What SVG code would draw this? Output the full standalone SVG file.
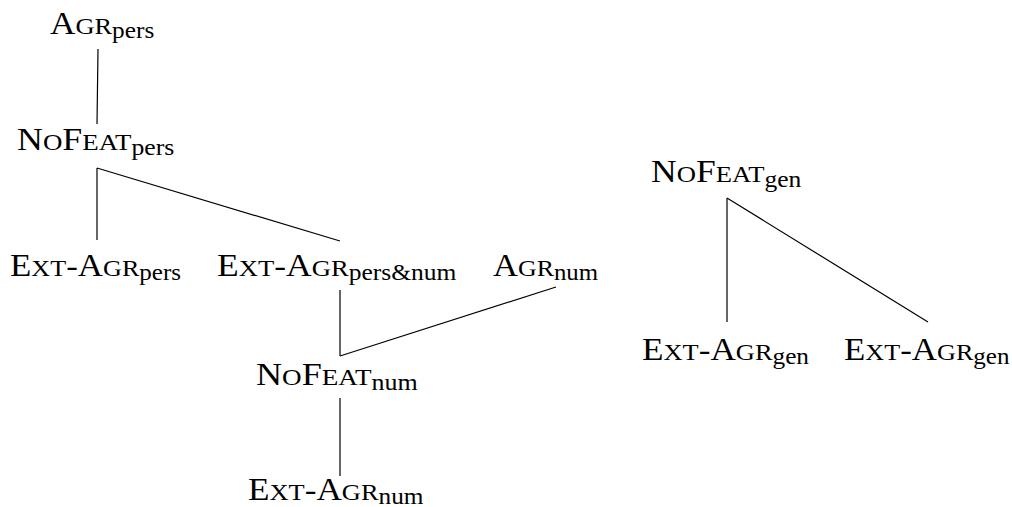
<svg xmlns="http://www.w3.org/2000/svg" width="1012" height="507" viewBox="0 0 1012 507" font-family="Liberation Serif, Times New Roman, serif">
  <style>
    text { font-family: "Liberation Serif", "Times New Roman", serif; fill: #000; }
    .big { font-size: 32px; }
    .sc { font-size: 24px; }
    .sub { font-size: 23px; }
    .edge { stroke: #000; stroke-width: 1.2; fill: none; }
  </style>
  <rect width="1012" height="507" fill="#fff"/>

  <g id="connectors">
    <line class="edge" x1="98" y1="49" x2="97" y2="124"/>
    <line class="edge" x1="97" y1="168" x2="97" y2="240"/>
    <line class="edge" x1="97" y1="168" x2="340" y2="241"/>
    <line class="edge" x1="340" y1="290" x2="340" y2="356"/>
    <line class="edge" x1="340" y1="356" x2="556" y2="287"/>
    <line class="edge" x1="340" y1="398" x2="340" y2="476"/>
    <line class="edge" x1="727" y1="198" x2="727" y2="322"/>
    <line class="edge" x1="727" y1="198" x2="928" y2="322"/>
  </g>

  <g id="agr-pers" transform="translate(50,34) scale(1.1,1)">
    <text><tspan class="big">A</tspan><tspan class="sc">GR</tspan><tspan class="sub" dy="4">pers</tspan></text>
  </g>

  <g id="nofeat-pers" transform="translate(17,150) scale(1.12,1)">
    <text><tspan class="big">N</tspan><tspan class="sc">O</tspan><tspan class="big">F</tspan><tspan class="sc">EAT</tspan><tspan class="sub" dy="5">pers</tspan></text>
  </g>

  <g id="ext-agr-pers" transform="translate(10,276) scale(1.09,1)">
    <text><tspan class="big">E</tspan><tspan class="sc">XT</tspan><tspan class="big">-A</tspan><tspan class="sc">GR</tspan><tspan class="sub" dy="4">pers</tspan></text>
  </g>

  <g id="ext-agr-pers-num" transform="translate(217,276) scale(1.11,1)">
    <text><tspan class="big">E</tspan><tspan class="sc">XT</tspan><tspan class="big">-A</tspan><tspan class="sc">GR</tspan><tspan class="sub" dy="4">pers&amp;num</tspan></text>
  </g>

  <g id="agr-num" transform="translate(493,276) scale(1.08,1)">
    <text><tspan class="big">A</tspan><tspan class="sc">GR</tspan><tspan class="sub" dy="4">num</tspan></text>
  </g>

  <g id="nofeat-num" transform="translate(256,385) scale(1.13,1)">
    <text><tspan class="big">N</tspan><tspan class="sc">O</tspan><tspan class="big">F</tspan><tspan class="sc">EAT</tspan><tspan class="sub" dy="5">num</tspan></text>
  </g>

  <g id="ext-agr-num" transform="translate(248,500) scale(1.1,1)">
    <text><tspan class="big">E</tspan><tspan class="sc">XT</tspan><tspan class="big">-A</tspan><tspan class="sc">GR</tspan><tspan class="sub" dy="4">num</tspan></text>
  </g>

  <g id="nofeat-gen" transform="translate(651,182) scale(1.11,1)">
    <text><tspan class="big">N</tspan><tspan class="sc">O</tspan><tspan class="big">F</tspan><tspan class="sc">EAT</tspan><tspan class="sub" dy="5">gen</tspan></text>
  </g>

  <g id="ext-agr-gen-1" transform="translate(642,360) scale(1.1,1)">
    <text><tspan class="big">E</tspan><tspan class="sc">XT</tspan><tspan class="big">-A</tspan><tspan class="sc">GR</tspan><tspan class="sub" dy="4">gen</tspan></text>
  </g>

  <g id="ext-agr-gen-2" transform="translate(844,360) scale(1.09,1)">
    <text><tspan class="big">E</tspan><tspan class="sc">XT</tspan><tspan class="big">-A</tspan><tspan class="sc">GR</tspan><tspan class="sub" dy="4">gen</tspan></text>
  </g>
</svg>
